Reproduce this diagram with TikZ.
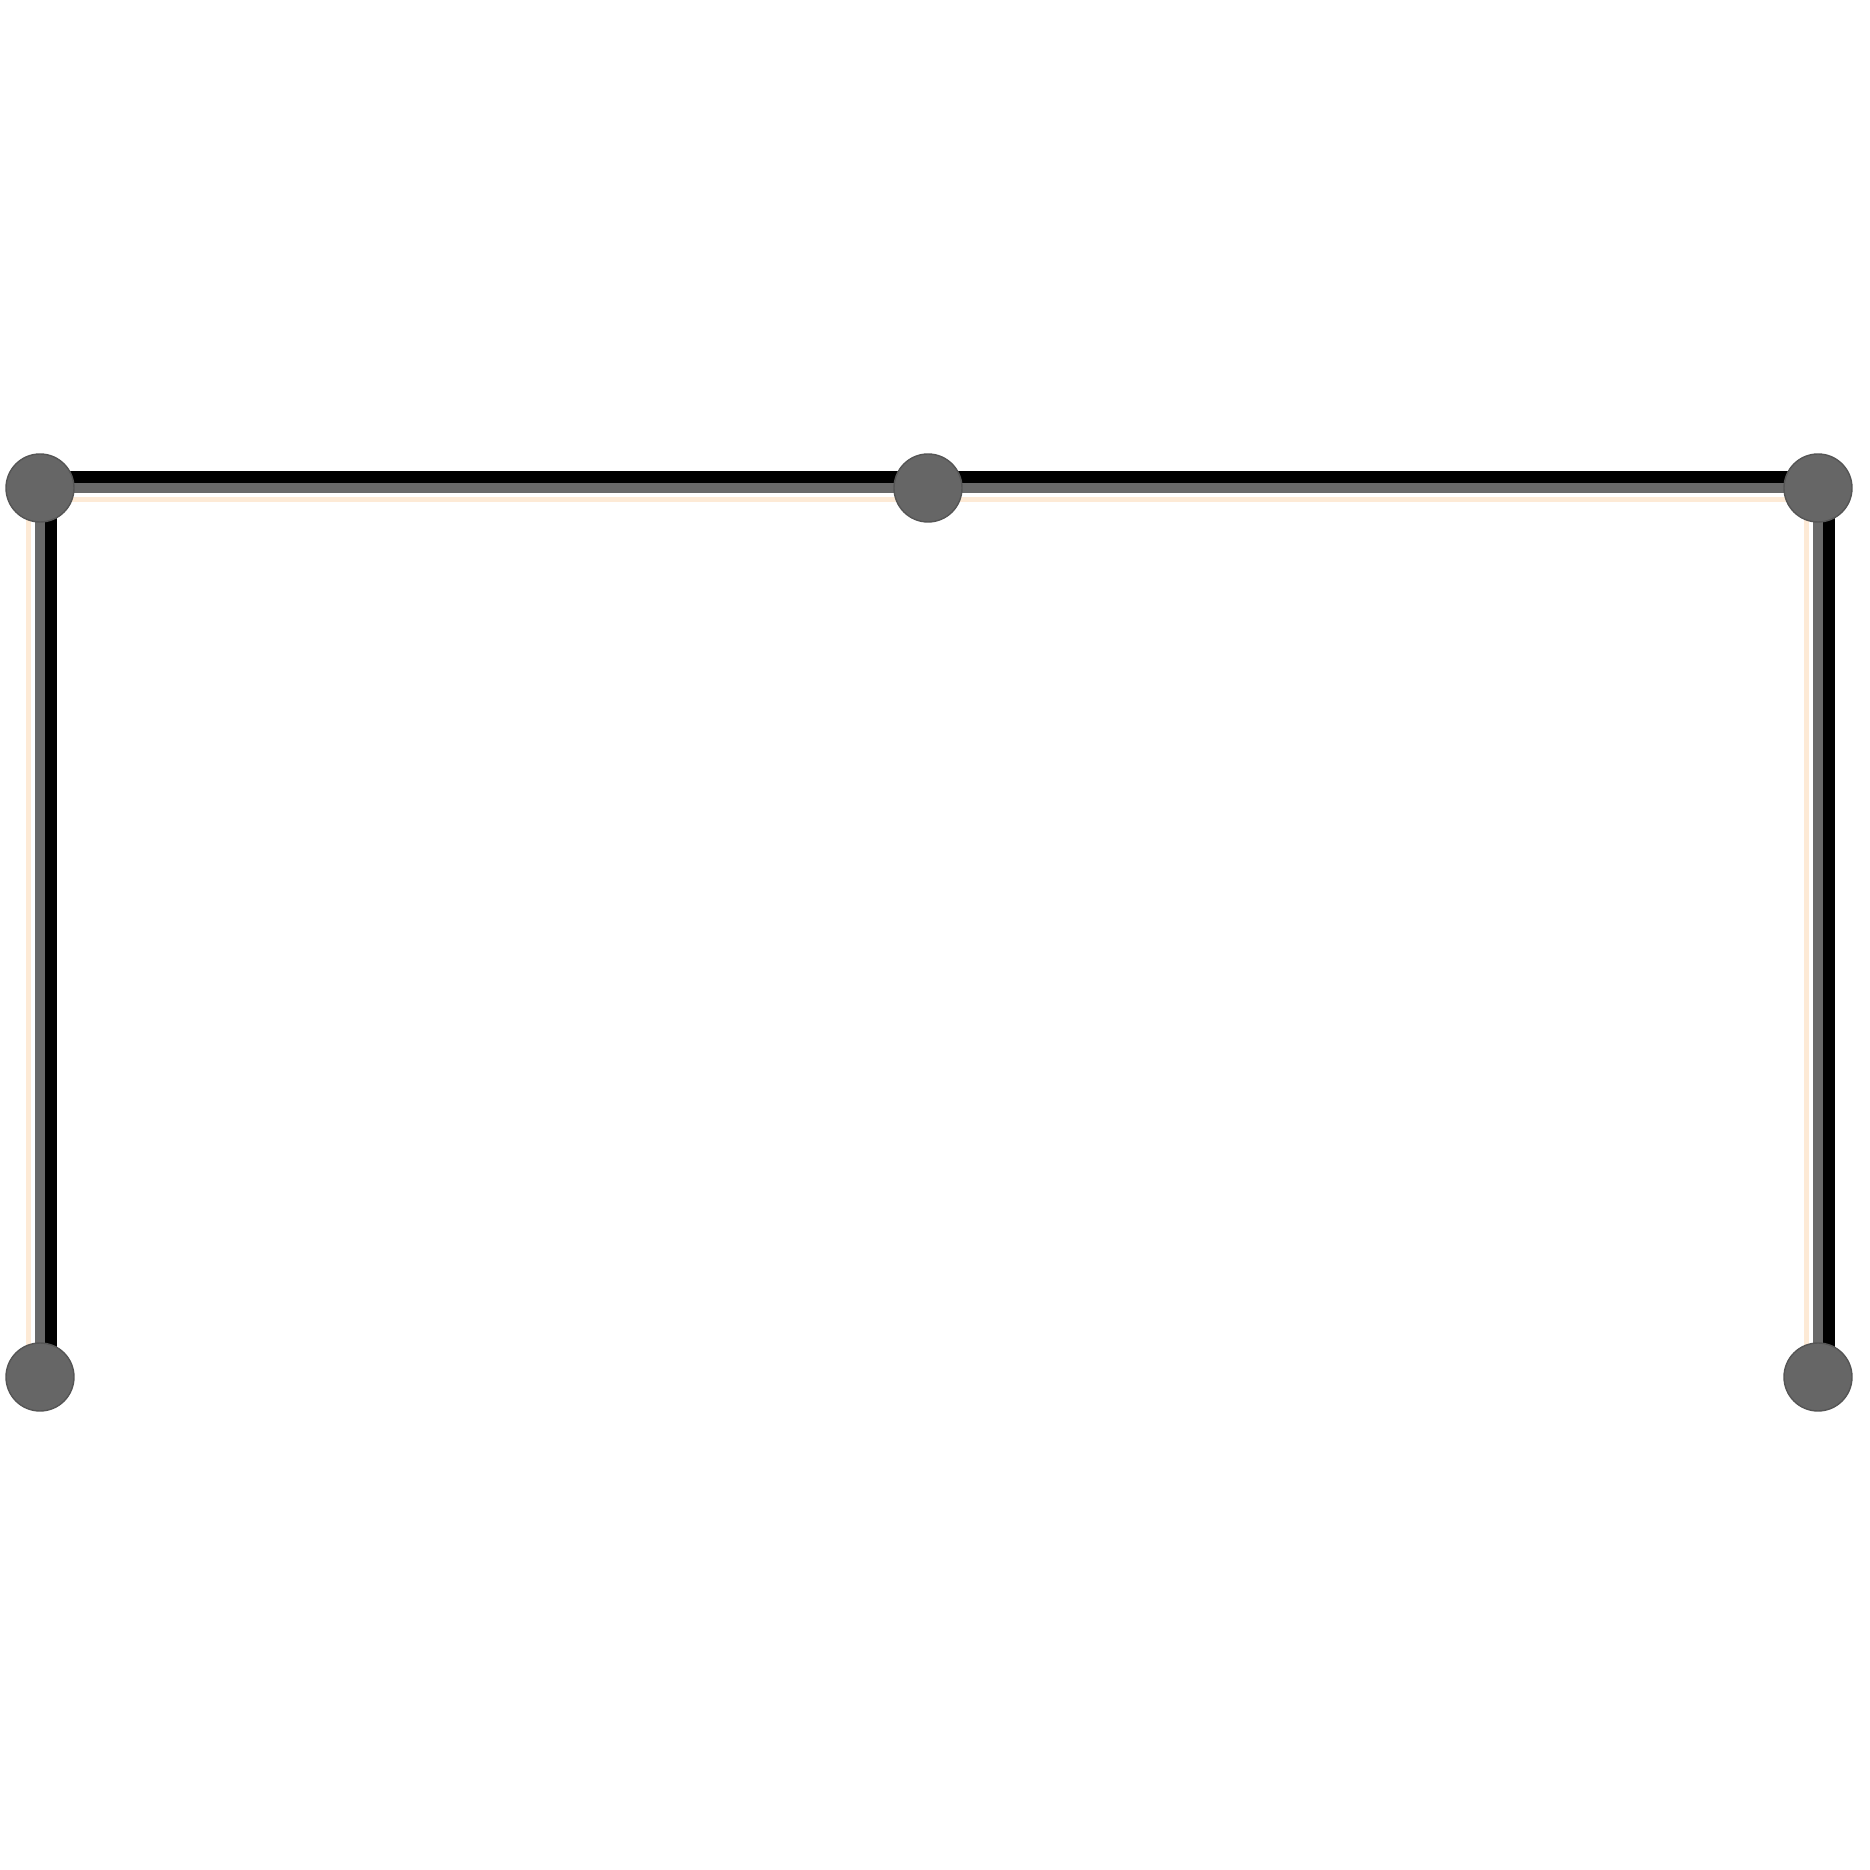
\documentclass[tikz,border=0pt]{standalone}
\begin{document}
\begin{tikzpicture}
\definecolor{nodegray}{RGB}{102,102,102}
\definecolor{nodeedge}{RGB}{85,85,85}
\definecolor{beige}{RGB}{253,234,214}
\definecolor{midgray}{RGB}{105,105,105}
\tikzset{
  dot/.style={circle, fill=nodegray, draw=nodeedge, line width=0.4pt, minimum size=0.68cm, inner sep=0pt},
  glow/.style={draw=beige, line width=0.05cm},
  barblack/.style={draw=black, line width=0.13cm},
  bargray/.style={draw=midgray, line width=0.10cm}
}
\useasboundingbox (0,0) rectangle (18.70,18.70);
% node positions (coordinates first, nodes drawn on top later)
\coordinate (pa) at (0.40,13.82);
\coordinate (pb) at (9.28,13.82);
\coordinate (pc) at (18.18,13.82);
\coordinate (pd) at (0.40,4.93);
\coordinate (pe) at (18.18,4.93);
% connectors: glow, black bar, gray bar
\foreach \s/\t in {pa/pc, pa/pd, pc/pe} {
  \draw[glow] ([shift={(-0.12,-0.12)}]\s) -- ([shift={(-0.12,-0.12)}]\t);
}
\foreach \s/\t in {pa/pc, pa/pd, pc/pe} {
  \draw[barblack] ([shift={(0.10,0.10)}]\s) -- ([shift={(0.10,0.10)}]\t);
}
\foreach \s/\t in {pa/pc, pa/pd, pc/pe} {
  \draw[bargray] (\s) -- (\t);
}
% nodes
\node[dot] (a) at (pa) {};
\node[dot] (b) at (pb) {};
\node[dot] (c) at (pc) {};
\node[dot] (d) at (pd) {};
\node[dot] (e) at (pe) {};
\end{tikzpicture}
\end{document}
